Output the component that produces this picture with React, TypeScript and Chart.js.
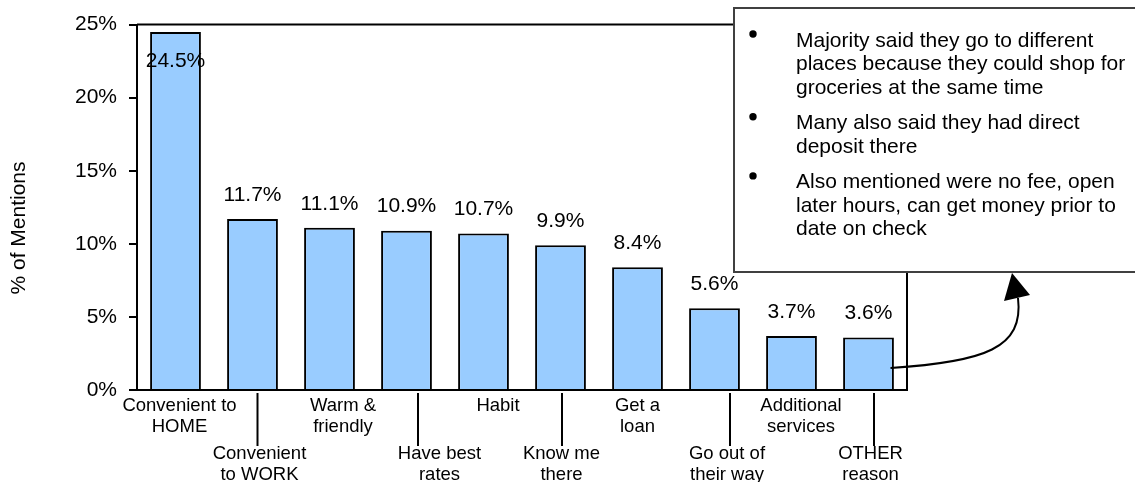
import React, { useEffect, useRef } from "react";
import { Chart, registerables } from "chart.js";

Chart.register(...registerables);

const FONT = '"Liberation Sans", Arial, Helvetica, sans-serif';

// ---- data ----
const categories: string[][] = [
  ["Convenient to", "HOME"],
  ["Convenient", "to WORK"],
  ["Warm &", "friendly"],
  ["Have best", "rates"],
  ["Habit"],
  ["Know me", "there"],
  ["Get a", "loan"],
  ["Go out of", "their way"],
  ["Additional", "services"],
  ["OTHER", "reason"],
];
const values: number[] = [24.5, 11.7, 11.1, 10.9, 10.7, 9.9, 8.4, 5.6, 3.7, 3.6];
const valueLabels: string[] = ["24.5%", "11.7%", "11.1%", "10.9%", "10.7%", "9.9%", "8.4%", "5.6%", "3.7%", "3.6%"];
const yTickValues: number[] = [0, 5, 10, 15, 20, 25];
const yTitle = "% of Mentions";
const notes: string[][] = [
  ["Majority said they go to different", "places because they could shop for", "groceries at the same time"],
  ["Many also said they had direct", "deposit there"],
  ["Also mentioned were no fee, open", "later hours, can get money prior to", "date on check"],
];

// ---- layout hints (hand-placed annotation offsets, px) ----
const labelShift: number[] = [4, 7, 13.5, 33, 14.5, 1, 0, 12.5, 9.5, 2];
const leaderShift: number[] = [0, 5, 0, 11.5, 0, 1.5, 0, 15.5, 0, 5.5];

const annotations = {
  id: "annotations",
  afterDraw(chart: any) {
    const ctx: CanvasRenderingContext2D = chart.ctx;
    const { left, right, top, bottom } = chart.chartArea;
    const xs = chart.scales.x;
    ctx.save();

    // plot frame (top + right)
    ctx.strokeStyle = "#000";
    ctx.lineWidth = 2;
    ctx.beginPath();
    ctx.moveTo(left, top);
    ctx.lineTo(right, top);
    ctx.lineTo(right, bottom);
    ctx.stroke();

    // value labels
    const meta = chart.getDatasetMeta(0);
    ctx.fillStyle = "#000";
    ctx.font = `21px ${FONT}`;
    ctx.textAlign = "center";
    ctx.textBaseline = "middle";
    meta.data.forEach((el: any, i: number) => {
      let cy = el.y - 24;
      if (cy - 11 < top) cy = el.y + 29;
      ctx.fillText(valueLabels[i], el.x, cy);
    });

    // category labels, alternating rows with leader lines
    ctx.font = `18.5px ${FONT}`;
    categories.forEach((lines, i) => {
      const cx = xs.getPixelForValue(i);
      const row = i % 2;
      const y0 = row === 0 ? 405.5 : 453.5;
      if (row === 1) {
        ctx.beginPath();
        ctx.lineWidth = 2;
        ctx.moveTo(cx + leaderShift[i], bottom + 3);
        ctx.lineTo(cx + leaderShift[i], 446);
        ctx.stroke();
      }
      lines.forEach((t, k) => {
        ctx.fillText(t, cx + labelShift[i], y0 + k * 21.5);
      });
    });

    // y title
    ctx.save();
    ctx.translate(19, 228);
    ctx.rotate(-Math.PI / 2);
    ctx.font = `21px ${FONT}`;
    ctx.fillText(yTitle, 0, 0);
    ctx.restore();

    // text box
    ctx.fillStyle = "#fff";
    ctx.fillRect(734, 8, 420, 264);
    ctx.strokeStyle = "#404040";
    ctx.lineWidth = 2;
    ctx.strokeRect(734, 8, 420, 264);
    ctx.fillStyle = "#000";
    ctx.font = `21px ${FONT}`;
    ctx.textAlign = "left";
    ctx.textBaseline = "alphabetic";
    let base = 46.5;
    notes.forEach((para) => {
      ctx.beginPath();
      ctx.arc(753, base - 12.5, 3.7, 0, Math.PI * 2);
      ctx.fill();
      para.forEach((t) => {
        ctx.fillText(t, 796, base);
        base += 23.5;
      });
      base += 12.2;
    });

    // curved arrow from last bar to the box
    const last = meta.data[meta.data.length - 1];
    ctx.strokeStyle = "#000";
    ctx.lineWidth = 2;
    ctx.beginPath();
    ctx.moveTo(last.x + 22, 368);
    ctx.bezierCurveTo(985, 362, 1024, 348, 1018, 298);
    ctx.stroke();
    ctx.beginPath();
    ctx.moveTo(1012, 273);
    ctx.lineTo(1030, 295);
    ctx.lineTo(1004, 301);
    ctx.closePath();
    ctx.fill();

    ctx.restore();
  },
};

export default function App() {
  const ref = useRef<HTMLCanvasElement>(null);
  useEffect(() => {
    const chart = new Chart(ref.current as HTMLCanvasElement, {
      type: "bar",
      data: {
        labels: categories.map((c) => c.join(" ")),
        datasets: [
          {
            data: values,
            backgroundColor: "#99CCFF",
            borderColor: "#000",
            borderWidth: 2,
            categoryPercentage: 1,
            barPercentage: 0.66,
          },
        ],
      },
      options: {
        responsive: false,
        animation: false,
        devicePixelRatio: 1,
        layout: { padding: { left: 0, top: 22, right: 228, bottom: 0 } },
        plugins: { legend: { display: false }, tooltip: { enabled: false }, title: { display: false } },
        scales: {
          x: {
            ticks: { display: false },
            grid: { display: false },
            border: { display: true, color: "#000", width: 2 },
            afterFit: (s: any) => {
              s.height = 92;
            },
          },
          y: {
            min: yTickValues[0],
            max: yTickValues[yTickValues.length - 1],
            afterBuildTicks: (s: any) => {
              s.ticks = yTickValues.map((v) => ({ value: v }));
            },
            ticks: {
              color: "#000",
              font: { family: FONT, size: 21 },
              padding: 12,
              callback: (v: any) => `${v}%`,
            },
            grid: { display: true, drawOnChartArea: false, drawTicks: true, tickLength: 8, color: "#000", lineWidth: 2 },
            border: { display: true, color: "#000", width: 2 },
            afterFit: (s: any) => {
              s.width = 137;
            },
          },
        },
      },
      plugins: [annotations],
    });
    return () => chart.destroy();
  }, []);
  return (
    <div style={{ position: "absolute", left: 0, top: 0, width: 1135, height: 482, background: "#fff" }}>
      <canvas ref={ref} width={1135} height={482} style={{ display: "block", width: 1135, height: 482 }} />
    </div>
  );
}
